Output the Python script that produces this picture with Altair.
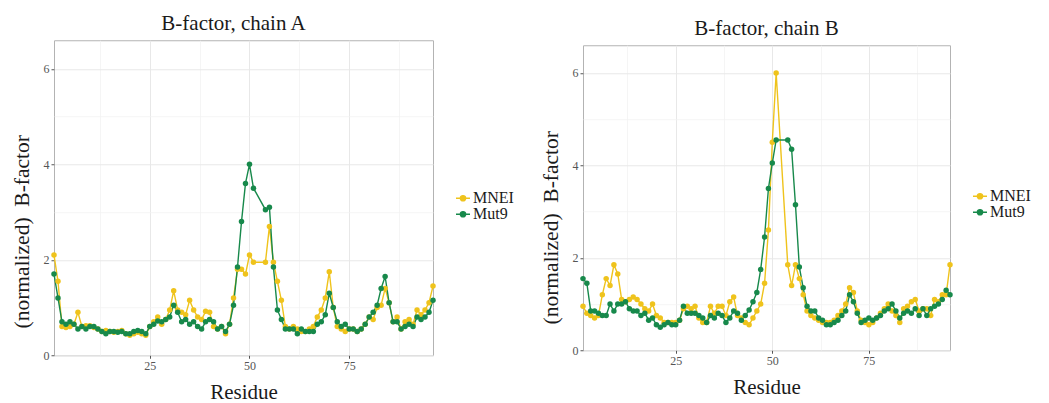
import altair as alt
import pandas as pd

residues = list(range(1, 97))

mnei_a = [2.1, 1.55, 0.6, 0.58, 0.6, 0.65, 0.9, 0.6, 0.62, 0.62,
          0.58, 0.55, 0.5, 0.52, 0.5, 0.48, 0.5, 0.52, 0.45, 0.42,
          0.45, 0.48, 0.45, 0.42, 0.6, 0.7, 0.8, 0.65, 0.75, 0.95,
          1.35, 0.95, 0.9, 0.85, 1.15, 0.95, 0.8, 0.75, 0.92, 0.9,
          0.6, 0.55, 0.6, 0.45, 0.65, 1.2, 1.8, 1.8, 1.7, 2.1,
          1.95, None, None, 1.95, 2.7, 1.95, 1.55, 1.15, 0.6, 0.55,
          0.6, 0.55, 0.5, 0.5, 0.55, 0.6, 0.8, 0.95, 1.2, 1.75,
          1.0, 0.6, 0.55, 0.5, 0.55, 0.55, 0.5, 0.55, 0.65, 0.8,
          0.75, 1.0, 1.05, 1.4, 1.1, 0.7, 0.8, 0.55, 0.7, 0.75,
          0.65, 0.95, 0.85, 0.95, 1.1, 1.45]

mut9_a = [1.7, 1.2, 0.7, 0.65, 0.7, 0.65, 0.55, 0.6, 0.55, 0.6,
          0.6, 0.55, 0.5, 0.45, 0.5, 0.5, 0.48, 0.5, 0.45, 0.45,
          0.5, 0.52, 0.5, 0.45, 0.6, 0.65, 0.72, 0.7, 0.75, 0.8,
          1.05, 0.9, 0.7, 0.75, 0.65, 0.7, 0.6, 0.55, 0.7, 0.75,
          0.7, 0.55, 0.6, 0.5, 0.65, 1.05, 1.85, 2.8, 3.6, 4.0,
          3.5, None, None, 3.05, 3.1, 1.85, 0.95, 0.75, 0.55, 0.55,
          0.55, 0.45, 0.55, 0.5, 0.5, 0.5, 0.65, 0.7, 0.85, 1.3,
          1.0, 0.7, 0.6, 0.65, 0.55, 0.55, 0.5, 0.55, 0.65, 0.8,
          0.9, 1.05, 1.4, 1.65, 1.1, 0.7, 0.7, 0.55, 0.6, 0.65,
          0.6, 0.8, 0.75, 0.8, 0.9, 1.15]

mnei_b = [0.95, 0.8, 0.75, 0.7, 0.75, 1.2, 1.55, 1.4, 1.85, 1.65,
          1.1, 1.05, 1.1, 1.15, 1.1, 1.0, 0.9, 0.85, 1.0, 0.75,
          0.7, 0.6, 0.6, 0.6, 0.6, 0.65, 0.9, 0.95, 0.9, 0.95,
          0.7, 0.6, 0.6, 0.95, 0.8, 0.95, 0.95, 0.75, 1.05, 1.15,
          0.75, 0.7, 0.6, 0.55, 0.7, 0.85, 1.0, 1.45, 2.6, 4.5,
          6.0, None, None, 1.85, 1.4, 1.85, 1.55, 1.2, 0.85, 0.75,
          0.7, 0.65, 0.6, 0.6, 0.6, 0.65, 0.75, 0.85, 1.0, 1.35,
          1.25, 0.85, 0.65, 0.6, 0.55, 0.6, 0.7, 0.8, 0.9, 1.0,
          0.85, 0.75, 0.6, 0.9, 0.95, 1.05, 1.1, 0.85, 0.9, 0.9,
          0.75, 1.1, 1.05, 1.2, 1.2, 1.85]

mut9_b = [1.55, 1.45, 0.85, 0.85, 0.8, 0.75, 0.75, 1.0, 0.85, 1.0,
          1.0, 1.05, 0.9, 0.85, 0.85, 0.75, 0.8, 0.65, 0.7, 0.55,
          0.5, 0.55, 0.6, 0.55, 0.55, 0.65, 0.95, 0.8, 0.8, 0.8,
          0.75, 0.7, 0.6, 0.75, 0.7, 0.8, 0.75, 0.6, 0.7, 0.85,
          0.8, 0.65, 0.75, 0.87, 1.05, 1.25, 1.75, 2.45, 3.5, 4.05,
          4.55, None, None, 4.55, 4.35, 3.15, 1.8, 1.35, 0.95, 0.85,
          0.85, 0.7, 0.65, 0.55, 0.55, 0.6, 0.65, 0.75, 0.85, 1.2,
          1.05, 0.8, 0.6, 0.65, 0.7, 0.65, 0.7, 0.75, 0.85, 0.9,
          1.0, 0.85, 0.7, 0.8, 0.85, 0.8, 0.9, 0.75, 0.9, 0.75,
          0.9, 0.95, 1.0, 1.1, 1.3, 1.2]

series_names = ["MNEI", "Mut9"]
series_colors = ["#EFC31C", "#17894B"]
titles = ["B-factor, chain A", "B-factor, chain B"]
x_major = [25, 50, 75]
x_minor = [12.5, 37.5, 62.5, 87.5]
y_major = [0, 2, 4, 6]
y_minor = [1, 3, 5]

FONT = "Liberation Serif"
LEGEND_PATH = "M-1,0H1M0.38,0A0.38,0.38,0,1,1,-0.38,0A0.38,0.38,0,1,1,0.38,0Z"


def make_df(a, b):
    rows = []
    for name, vals in zip(series_names, [a, b]):
        for r, v in zip(residues, vals):
            if v is not None:
                rows.append({"Residue": r, "B": v, "Protein": name})
    return pd.DataFrame(rows)


def panel(df, title, width, height, lx, ly, ytitle_y, title_dx):
    xscale = alt.Scale(domain=[1, 96], nice=False, zero=False)
    yscale = alt.Scale(domain=[0, 6.6], nice=False, zero=False)
    color = alt.Color(
        "Protein:N",
        scale=alt.Scale(domain=series_names, range=series_colors),
        legend=alt.Legend(
            title=None, orient="none", legendX=lx, legendY=ly,
            symbolType=LEGEND_PATH, symbolSize=196, symbolStrokeWidth=1.4,
            labelFont=FONT, labelFontSize=16, labelColor="#1a1a1a",
            labelOffset=2, rowPadding=-7,
        ),
    )
    xax = alt.X("Residue:Q", scale=xscale,
                axis=alt.Axis(values=x_major, title="Residue", grid=True,
                              orient="bottom", titlePadding=10,
                              titleFontSize=21))
    yax = alt.Y("B:Q", scale=yscale,
                axis=alt.Axis(values=y_major,
                              title="(normalized)\u00a0\u00a0B-factor",
                              orient="left", grid=True, titlePadding=10,
                              titleFontSize=21.5, titleY=ytitle_y))
    lines = alt.Chart(df).mark_line(strokeWidth=1.4).encode(
        x=xax, y=yax, color=color, order="Residue:Q")
    points = alt.Chart(df).mark_point(filled=True, size=30, opacity=1).encode(
        x=xax, y=yax, color=color)
    main = alt.layer(lines, points)
    minor = alt.Chart(df).mark_point(opacity=0).encode(
        x=alt.X("Residue:Q", scale=xscale,
                axis=alt.Axis(values=x_minor, labels=False, ticks=False,
                              orient="top", domain=False, title=None,
                              grid=True, gridColor="#f3f3f3", gridWidth=0.8)),
        y=alt.Y("B:Q", scale=yscale,
                axis=alt.Axis(values=y_minor, labels=False, ticks=False,
                              orient="right", domain=False, title=None,
                              grid=True, gridColor="#f3f3f3", gridWidth=0.8)),
    )
    return alt.layer(main, minor).resolve_axis(
        x="independent", y="independent"
    ).properties(
        width=width, height=height,
        title=alt.Title(title, font=FONT, fontSize=21, fontWeight="normal",
                        color="#1a1a1a", anchor="middle", offset=6,
                        dx=title_dx),
    )


left = panel(make_df(mnei_a, mut9_a), titles[0], 379, 315, 401, 150, 191, -10)
right = panel(make_df(mnei_b, mut9_b), titles[1], 367, 305, 389, 143, 182, 0)

chart = alt.hconcat(left, right, spacing=24, center=True).resolve_scale(
    color="independent"
).properties(
    padding={"left": 2, "top": 4, "right": 0, "bottom": 0}
).configure_view(
    stroke="#b3b3b3", strokeWidth=1
).configure_axis(
    labelFont=FONT, labelFontSize=12, labelColor="#555555",
    tickColor="#555555", tickSize=3, labelPadding=2, domain=False,
    gridColor="#e8e8e8", gridWidth=1,
    titleFont=FONT, titleFontSize=21, titleFontWeight="normal",
    titleColor="#1a1a1a",
)

chart.save("out.html", embed_options={"renderer": "svg", "actions": False})
